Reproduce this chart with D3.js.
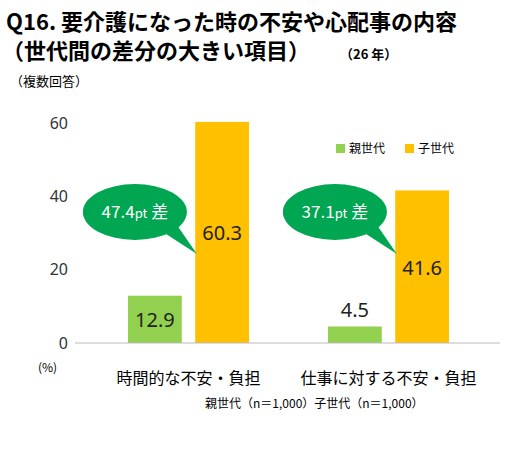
<!DOCTYPE html><html><head><meta charset="utf-8"><script src="https://cdn.jsdelivr.net/npm/d3@7"></script>
<style>body{margin:0;background:#fff}text{font-family:"Noto Sans CJK JP",sans-serif}</style></head><body><svg id="c" width="514" height="475"></svg>
<script>
const categories=["時間的な不安・負担","仕事に対する不安・負担"];
const series=["親世代","子世代"];
const parentVals=[12.9,4.5];
const childVals=[60.3,41.6];
const diffs=["47.4","37.1"];
const yTicks=[0,20,40,60];
const colors=["#92D050","#FFC000"];
const svg=d3.select("#c");
const y=d3.scaleLinear().domain([0,60]).range([343,123]);
const x0=d3.scaleBand().domain(categories).range([128,449]).paddingInner(0.395).paddingOuter(0);
const x1=d3.scaleBand().domain(series).range([0,x0.bandwidth()]).paddingInner(0.2);
svg.append("text").attr("x",6).attr("y",30).attr("font-size",22).attr("font-weight","bold").text("Q16. 要介護になった時の不安や心配事の内容");
svg.append("text").attr("x",2).attr("y",59).attr("font-size",22).attr("font-weight","bold").text("（世代間の差分の大きい項目）");
svg.append("text").attr("x",340).attr("y",59).attr("font-size",13).attr("font-weight","bold").text("（26 年）");
svg.append("text").attr("x",10).attr("y",86).attr("font-size",13).text("（複数回答）");
const ax=svg.append("g").attr("transform","translate(72,0)").call(d3.axisLeft(y).tickValues(yTicks).tickSize(0).tickPadding(4));
ax.select(".domain").remove();
ax.selectAll("text").attr("font-size",16).attr("fill","#333").style("font-family","Noto Sans, sans-serif");
const data=categories.map((c,i)=>({c,vals:[parentVals[i],childVals[i]]}));
const g=svg.selectAll(".grp").data(data).join("g").attr("transform",d=>`translate(${x0(d.c)},0)`);
g.selectAll("rect").data(d=>d.vals.map((v,j)=>({v,s:series[j],j}))).join("rect")
 .attr("x",d=>x1(d.s)).attr("width",x1.bandwidth()).attr("y",d=>y(d.v)).attr("height",d=>343-y(d.v)).attr("fill",d=>colors[d.j]);
g.selectAll(".v").data(d=>d.vals.map((v,j)=>({v,s:series[j],j}))).join("text")
 .attr("x",d=>x1(d.s)+x1.bandwidth()/2).attr("y",d=>d.v<8?y(d.v)-10:(y(d.v)+343)/2+8)
 .attr("text-anchor","middle").attr("font-size",20).attr("fill","#222").style("font-family","Noto Sans, sans-serif").text(d=>d.v.toFixed(1));
svg.append("line").attr("x1",75).attr("x2",500).attr("y1",343).attr("y2",343).attr("stroke","#bbb");
svg.selectAll(".cat").data(categories).join("text").attr("x",d=>x0(d)+x0.bandwidth()/2).attr("y",384).attr("text-anchor","middle").attr("font-size",16).text(d=>d);
svg.append("text").attr("x",38).attr("y",372).attr("font-size",12).text("(%)");
svg.append("text").attr("x",205).attr("y",408).attr("font-size",12).text("親世代（n＝1,000）子世代（n＝1,000）");
data.forEach((d,i)=>{
 const cx=x0(d.c)+x1("親世代")+x1.bandwidth()/2-20, cy=212;
 const bg=svg.append("g");
 bg.append("path").attr("d",`M${cx+25},${cy+18} L${cx+62},${cy+42} L${cx+40},${cy+10} Z`).attr("fill","#00A651");
 bg.append("ellipse").attr("cx",cx).attr("cy",cy).attr("rx",52).attr("ry",28).attr("fill","#00A651");
 const t=bg.append("text").attr("x",cx).attr("y",cy+6).attr("text-anchor","middle").attr("fill","#fff").attr("font-size",17);
 t.append("tspan").text(diffs[i]);t.append("tspan").attr("font-size",13).text("pt");t.append("tspan").text(" 差");
});
series.forEach((s,i)=>{
 svg.append("rect").attr("x",336+i*69).attr("y",144).attr("width",9).attr("height",9).attr("fill",colors[i]);
 svg.append("text").attr("x",349+i*69).attr("y",153).attr("font-size",12).text(s);
});
</script></body></html>
